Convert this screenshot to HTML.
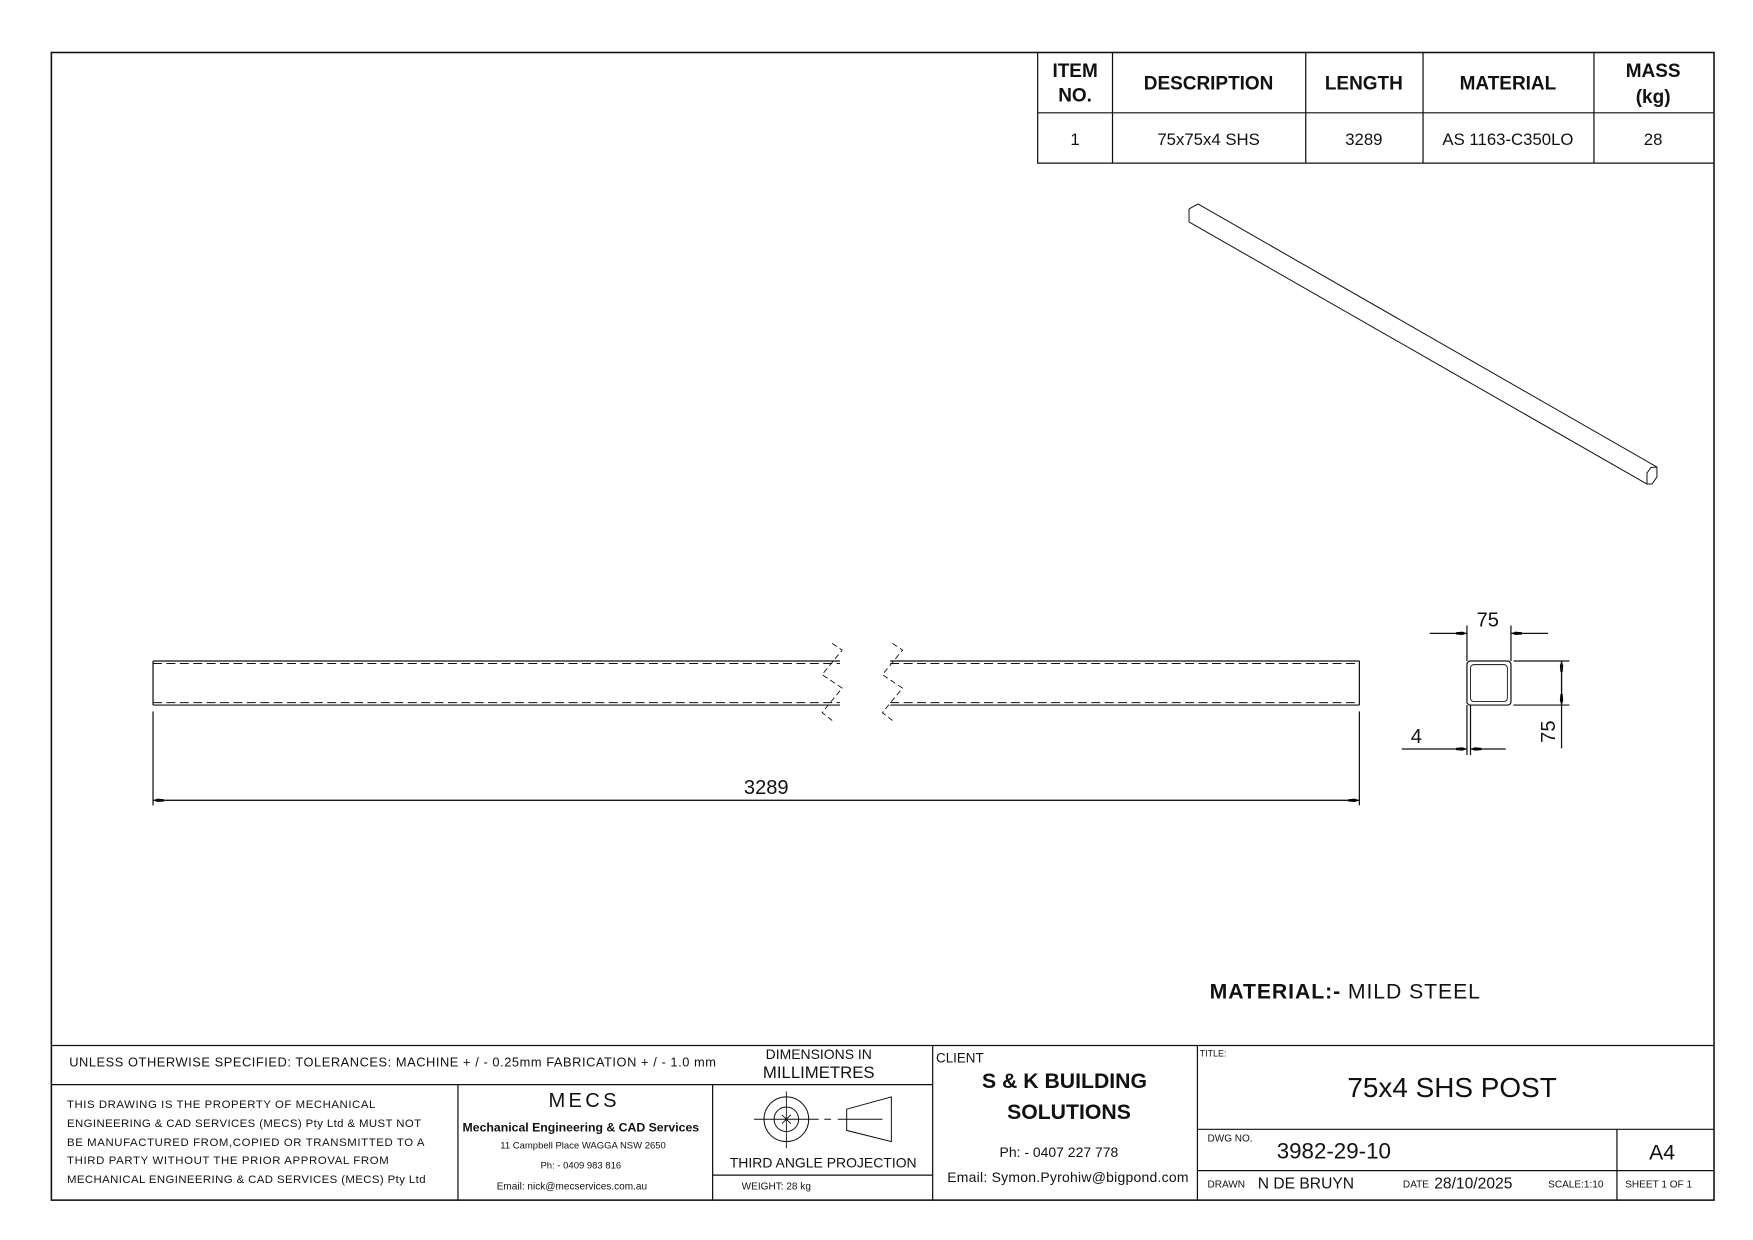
<!DOCTYPE html>
<html><head><meta charset="utf-8"><style>
html,body{margin:0;padding:0;background:#fff;}
svg{display:block;}
text{font-family:"Liberation Sans",sans-serif;fill:#111;}
</style></head><body>
<svg width="1753" height="1240" viewBox="0 0 1569.4 1110.1" preserveAspectRatio="none" xmlns="http://www.w3.org/2000/svg">
<defs>
<marker id="ar" viewBox="0 0 10 6" refX="10" refY="3" markerWidth="10" markerHeight="6" markerUnits="userSpaceOnUse" orient="auto"><path d="M0,2 L6,1.5 L10,3 L6,4.5 L0,4 Z" fill="#000"/></marker>
</defs>
<g fill="none" stroke="#111" stroke-width="1.1">
<rect x="46" y="47" width="1488.5" height="1027.4" stroke-width="1.4"/>
<path d="M929,47 V146 H1534.5 M929,101 H1534.5 M996,47 V146 M1169,47 V146 M1274,47 V146 M1427,47 V146"/>
<g stroke-width="0.9">
<path d="M1072.5,182.6 L1483.4,418.1 M1064.5,198.7 L1474.5,433.3 M1064.5,187.1 L1072.5,182.6 M1064.5,187.1 V198.7"/>
<path d="M1474.5,423.5 L1478,418.5 L1483.4,418.1 V427 L1479,433.3 L1474.5,433.3 Z"/>
</g>
<path d="M137,591.8 V631.2 M137,591.8 H752 M137,631.2 H752 M797,591.8 H1217 M797,631.2 H1217 M1217,591.8 V631.2"/>
<path d="M137,594 H752 M137,629 H752 M797,594 H1217 M797,629 H1217" stroke-dasharray="8,4" stroke-width="0.9"/>
<path d="M745,576 L754,582 L736,604 L745,610 L754,616 L736,638 L745,645" stroke-width="0.8" stroke-dasharray="5,3"/>
<path d="M799,576 L808,582 L790,604 L799,610 L808,616 L790,638 L799,645" stroke-width="0.8" stroke-dasharray="5,3"/>
<path d="M137,637 V721 M1217,637 V721"/>
<path d="M1217,716.5 H137" marker-end="url(#ar)" stroke-width="1"/>
<path d="M137,716.5 H1217" marker-end="url(#ar)" stroke-width="1"/>
<rect x="1313.3" y="591.8" width="39.4" height="39.4" rx="3"/>
<rect x="1316.5" y="595" width="33" height="33" rx="3" stroke-width="0.8"/>
<path d="M1313.3,591.8 V560 M1352.7,591.8 V560"/>
<path d="M1280,567 H1313.3" marker-end="url(#ar)"/>
<path d="M1386,567 H1352.7" marker-end="url(#ar)"/>
<path d="M1355,591.8 H1405 M1355,631.2 H1405"/>
<path d="M1398,631.2 V591.8" marker-end="url(#ar)"/>
<path d="M1398,591.8 V631.2" marker-end="url(#ar)"/>
<path d="M1398,631.2 V670"/>
<path d="M1313.3,631.2 V676 M1316.5,631.2 V676"/>
<path d="M1255,670.5 H1313.3" marker-end="url(#ar)"/>
<path d="M1348,670.5 H1316.5" marker-end="url(#ar)"/>
<path d="M46,936 H1534.5 M46,971 H835 M410,971 V1074.4 M638,971 V1074.4 M638,1052 H835 M835,936 V1074.4 M1072,936 V1074.4 M1072,1011 H1534.5 M1072,1048 H1534.5 M1447.6,1011 V1074.4"/>
<circle cx="704" cy="1002" r="20" stroke-width="0.9"/>
<circle cx="704" cy="1002" r="11" stroke-width="0.9"/>
<path d="M704,977 V1028 M675,1002 H733 M738,1002 H744 M750,1002 H790 M700,998 L708,1006 M708,998 L700,1006" stroke-width="0.8"/>
<path d="M758,993 L798,982 V1022 L758,1012 Z" stroke-width="0.9"/>
</g>
<g font-weight="bold" font-size="17" text-anchor="middle">
<text x="962.5" y="69">ITEM</text><text x="962.5" y="91">NO.</text>
<text x="1082" y="80">DESCRIPTION</text>
<text x="1221" y="80">LENGTH</text>
<text x="1350" y="80">MATERIAL</text>
<text x="1480" y="69">MASS</text><text x="1480" y="92">(kg)</text>
</g>
<g font-size="15" text-anchor="middle">
<text x="962.5" y="130">1</text>
<text x="1082" y="130">75x75x4 SHS</text>
<text x="1221" y="130">3289</text>
<text x="1350" y="130">AS 1163-C350LO</text>
<text x="1480" y="130">28</text>
</g>
<text x="686" y="711" font-size="18" text-anchor="middle">3289</text>
<text x="1332" y="561" font-size="18" text-anchor="middle">75</text>
<text x="1268" y="665" font-size="18" text-anchor="middle">4</text>
<text transform="translate(1392,655) rotate(-90)" font-size="18" text-anchor="middle">75</text>
<text x="1083" y="894" font-size="19" textLength="242"><tspan font-weight="bold">MATERIAL:-</tspan> MILD STEEL</text>
<text x="62" y="955" font-size="11.5" textLength="579">UNLESS OTHERWISE SPECIFIED: TOLERANCES: MACHINE + / - 0.25mm  FABRICATION + / - 1.0 mm</text>
<text x="733" y="948" font-size="12.5" text-anchor="middle">DIMENSIONS IN</text>
<text x="733" y="965" font-size="15" text-anchor="middle">MILLIMETRES</text>
<g font-size="10.2">
<text x="60" y="992" textLength="276">THIS DRAWING IS THE PROPERTY OF MECHANICAL</text>
<text x="60" y="1009" textLength="317">ENGINEERING &amp; CAD SERVICES (MECS) Pty Ltd &amp; MUST NOT</text>
<text x="60" y="1026" textLength="320">BE MANUFACTURED FROM,COPIED OR TRANSMITTED TO A</text>
<text x="60" y="1042" textLength="288">THIRD PARTY WITHOUT THE PRIOR APPROVAL FROM</text>
<text x="60" y="1059" textLength="321">MECHANICAL ENGINEERING &amp; CAD SERVICES (MECS) Pty Ltd</text>
</g>
<text x="523" y="991" font-size="18" text-anchor="middle" letter-spacing="3">MECS</text>
<text x="520" y="1013" font-size="11" font-weight="bold" text-anchor="middle">Mechanical Engineering &amp; CAD Services</text>
<text x="522" y="1028" font-size="8.5" text-anchor="middle">11 Campbell Place WAGGA NSW 2650</text>
<text x="520" y="1046" font-size="8.5" text-anchor="middle">Ph: - 0409 983 816</text>
<text x="512" y="1065" font-size="9" text-anchor="middle">Email: nick@mecservices.com.au</text>
<text x="737" y="1045" font-size="12.5" text-anchor="middle">THIRD ANGLE PROJECTION</text>
<text x="664" y="1065" font-size="9">WEIGHT: 28 kg</text>
<text x="838" y="951" font-size="12">CLIENT</text>
<text x="953" y="974" font-size="19" font-weight="bold" text-anchor="middle">S &amp; K  BUILDING</text>
<text x="957" y="1002" font-size="19" font-weight="bold" text-anchor="middle">SOLUTIONS</text>
<text x="948" y="1036" font-size="12.5" text-anchor="middle">Ph: - 0407 227 778</text>
<text x="848" y="1058" font-size="12.5" textLength="216">Email: Symon.Pyrohiw@bigpond.com</text>
<text x="1074" y="946" font-size="8">TITLE:</text>
<text x="1300" y="982" font-size="25" text-anchor="middle">75x4 SHS POST</text>
<text x="1081" y="1022" font-size="9">DWG NO.</text>
<text x="1143" y="1037" font-size="20">3982-29-10</text>
<text x="1488" y="1038" font-size="19" text-anchor="middle">A4</text>
<text x="1081" y="1063" font-size="9">DRAWN</text>
<text x="1126" y="1064" font-size="14">N DE BRUYN</text>
<text x="1256" y="1063" font-size="9">DATE</text>
<text x="1284" y="1064" font-size="14">28/10/2025</text>
<text x="1386" y="1063" font-size="9">SCALE:1:10</text>
<text x="1455" y="1063" font-size="9">SHEET 1 OF 1</text>
</svg>
</body></html>
